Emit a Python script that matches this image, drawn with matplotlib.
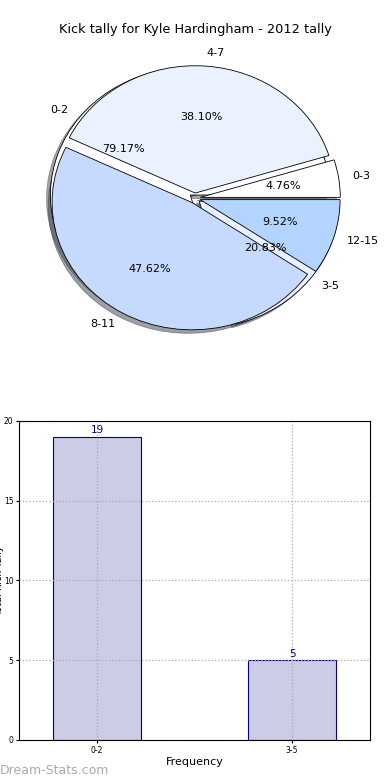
import matplotlib
matplotlib.use('Agg')
import matplotlib.pyplot as plt

# data
bands_a = ['0-2', '3-5']
counts_a = [19, 5]
bands_b = ['0-3', '4-7', '8-11', '12-15']
counts_b = [1, 8, 10, 2]

title = 'Kick tally for Kyle Hardingham - 2012 tally'
pie_colors = ['#ffffff', '#eaf1ff', '#c6d9ff', '#b3d4ff']

fig = plt.figure(figsize=(3.9, 7.8), dpi=100)

# pie (two overlaid pies, like the original)
ax1 = fig.add_axes([0.051, 0.542, 0.897, 0.408])
ax1.pie(counts_a, labels=bands_a, autopct='%.2f%%', colors=pie_colors[:2],
        explode=[0.04] * len(counts_a), shadow=True,
        wedgeprops=dict(edgecolor='black', linewidth=0.6),
        textprops=dict(fontsize=8))
ax1.pie(counts_b, labels=bands_b, autopct='%.2f%%', colors=pie_colors,
        explode=[0.04] * len(counts_b), shadow=True,
        wedgeprops=dict(edgecolor='black', linewidth=0.6),
        textprops=dict(fontsize=8))
ax1.set_aspect('auto')
ax1.set_xlim(-1.25, 1.25)
ax1.set_ylim(-1.25, 1.25)
fig.text(0.5, 0.962, title, ha='center', va='center', fontsize=9.3)

# bars
ax2 = fig.add_axes([0.049, 0.0513, 0.9, 0.409])
x = list(range(len(bands_a)))
bars = ax2.bar(x, counts_a, width=0.45, color='#ccccE6', edgecolor='navy', linewidth=0.8)
for b, v in zip(bars, counts_a):
    ax2.text(b.get_x() + b.get_width() / 2, v + 0.1, str(v), ha='center', va='bottom',
             color='navy', fontsize=7.5)
ax2.set_xlim(-0.4, 1.4)
ax2.set_ylim(0, 20)
ax2.set_yticks([0, 5, 10, 15, 20])
ax2.set_xticks(x)
ax2.set_xticklabels(bands_a)
ax2.tick_params(labelsize=5.5, length=2, pad=2)
ax2.grid(True, linestyle=':', color='#aaaaaa', linewidth=0.9)
for sp in ax2.spines.values():
    sp.set_zorder(5)
ax2.set_xlabel('Frequency', fontsize=8, labelpad=2)
# label mostly runs off the left edge, as in the original
ax2.set_ylabel('Total Kick Tally', fontsize=7)
ax2.yaxis.set_label_coords(-0.043, 0.5)

fig.text(0.0, 0.012, 'Dream-Stats.com', color='#aaaaaa', fontsize=9,
         ha='left', va='center')

fig.savefig('out.png', dpi=100)
